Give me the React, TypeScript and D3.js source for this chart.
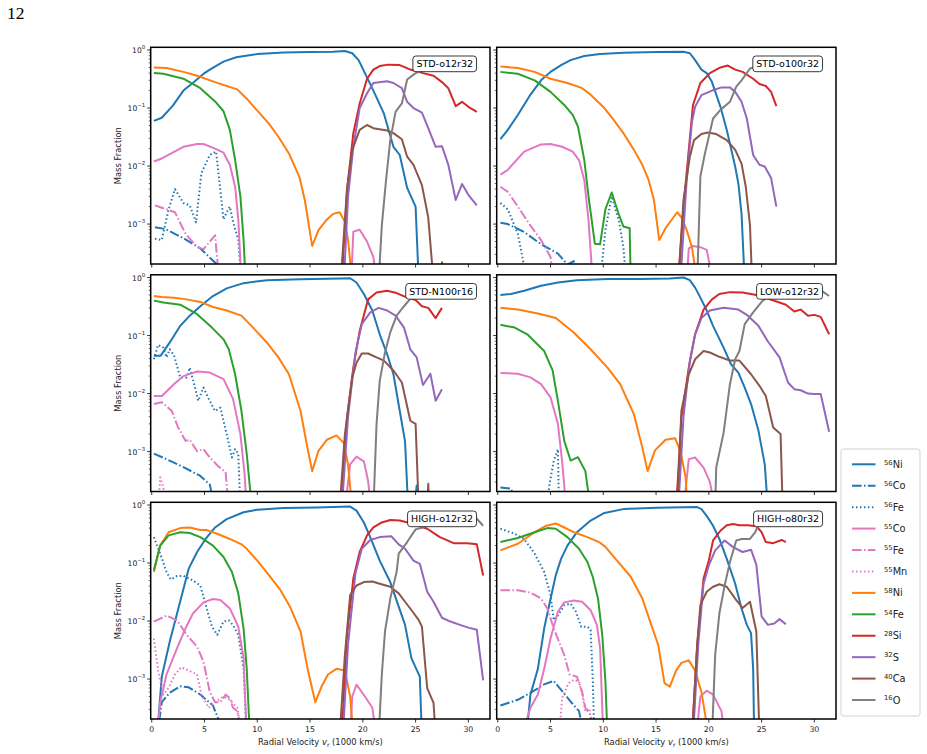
import React from 'react';
import * as d3 from 'd3';

type Pt = [number, number];

// ---------- tick labels / axes ----------
const X_TICKS = [0, 5, 10, 15, 20, 25, 30];
const Y_TICKS = [1e-3, 1e-2, 1e-1, 1];
const Y_TICK_EXP = ['\u22123', '\u22122', '\u22121', '0'];
const X_DOMAIN: [number, number] = [-0.1, 32.05];
const Y_DOMAIN: [number, number] = [2.05e-4, 1.114];

// ---------- panel A : STD-o12r32 ----------
const A_ni56: Pt[] = [[0.2,0.06],[0.95,0.068],[2,0.11],[3,0.2],[4,0.28],[5,0.4],[5.5,0.46],[6.8,0.63],[8,0.75],[10,0.85],[12.5,0.91],[15,0.92],[17.2,0.93],[18.3,0.96],[19,0.88],[19.6,0.67],[20.2,0.4],[21,0.2],[22,0.08],[22.9,0.0215],[23.5,0.0155],[24.2,0.0042],[25,0.002],[25.3,1e-4]];
const A_co56: Pt[] = [[0.3,0.00088],[1.3,0.00082],[3,0.00057],[4.6,0.00038],[6.2,0.0002],[6.5,1e-4]];
const A_fe56: Pt[] = [[0.3,0.00056],[0.95,0.00053],[1.6,0.0018],[2.2,0.004],[3,0.0023],[3.6,0.0021],[4.2,0.00107],[4.7,0.0075],[5.5,0.0155],[6.1,0.0178],[6.8,0.0012],[7.1,0.0016],[7.4,0.002],[7.7,0.0011],[8.2,0.00053],[8.5,1e-4]];
const A_co55: Pt[] = [[0.2,0.012],[0.95,0.0135],[3,0.0215],[4.3,0.024],[4.9,0.024],[6,0.02],[6.8,0.017],[7.4,0.0105],[7.9,0.0044],[8.2,0.0012],[8.5,1e-4],[18.9,1e-4],[19.1,0.00074],[19.7,0.0008],[20.4,0.0005],[21,0.00027],[21.3,1e-4]];
const A_fe55: Pt[] = [[0.3,0.0021],[2.2,0.0016],[3.2,0.00068],[4.3,0.0004],[4.9,0.00037],[6,0.00064],[6.4,1e-4]];
const A_mn55: Pt[] = [];
const A_ni58: Pt[] = [[0.2,0.5],[1.4,0.49],[3,0.42],[4.3,0.36],[6,0.28],[7.1,0.24],[8.1,0.21],[9,0.145],[10,0.09],[11.1,0.054],[12,0.032],[13,0.0165],[14,0.0064],[14.5,0.0026],[15.2,0.00042],[15.8,0.00079],[16.6,0.0012],[17.2,0.0015],[17.8,0.0016],[18.3,0.0011],[18.6,0.00053],[19,1e-4]];
const A_fe54: Pt[] = [[0.2,0.4],[1.1,0.39],[3,0.32],[4.6,0.22],[6,0.13],[6.8,0.088],[7.4,0.042],[7.9,0.0127],[8.4,0.003],[8.7,0.00053],[8.9,1e-4]];
const A_si28: Pt[] = [[18,1e-4],[18.5,0.0038],[19.1,0.037],[19.7,0.12],[20.4,0.32],[21,0.46],[21.6,0.53],[22.4,0.56],[23.5,0.55],[24.5,0.46],[25.7,0.4],[26.7,0.36],[27.5,0.28],[28.1,0.22],[28.8,0.108],[29.4,0.128],[30,0.105],[30.8,0.086]];
const A_s32: Pt[] = [[18.2,1e-4],[18.6,0.003],[19.1,0.0215],[19.7,0.1],[20.4,0.18],[21,0.27],[22.3,0.29],[22.9,0.27],[23.7,0.22],[24.2,0.128],[24.8,0.1],[25.6,0.083],[26.2,0.045],[26.9,0.0215],[27.5,0.022],[28.1,0.0105],[28.8,0.0026],[29.4,0.0049],[30,0.0032],[30.8,0.0021]];
const A_ca40: Pt[] = [[17.9,1e-4],[18.5,0.004],[19,0.019],[19.7,0.042],[20.4,0.051],[21,0.045],[22.3,0.041],[22.9,0.037],[23.7,0.029],[24.2,0.0145],[24.8,0.0105],[25.6,0.0047],[26.2,0.0013],[26.7,1e-4],[27.3,1e-4],[27.5,0.00022],[27.7,1e-4]];
const A_o16: Pt[] = [[21.5,1e-4],[21.8,0.00095],[22.2,0.0057],[22.6,0.028],[23.1,0.086],[23.7,0.12],[24.2,0.31],[25,0.4],[25.9,0.45],[27,0.47],[28,0.48],[29,0.5],[30,0.49],[30.8,0.47]];

// ---------- panel B : STD-o100r32 ----------
const B_ni56: Pt[] = [[0.25,0.029],[0.95,0.042],[1.9,0.076],[3,0.16],[4.1,0.3],[5,0.42],[6,0.55],[6.9,0.67],[8.2,0.79],[9.7,0.85],[11.9,0.9],[15.1,0.92],[17.6,0.93],[18.2,0.88],[18.7,0.67],[19.3,0.46],[19.8,0.4],[20.3,0.28],[21.1,0.105],[21.7,0.042],[22.5,0.0097],[22.8,0.005],[23.1,0.0015],[23.4,1e-4]];
const B_co56: Pt[] = [[0.25,0.00105],[0.95,0.001],[2.5,0.00073],[4.1,0.00045],[5.7,0.00031],[6.6,0.0002],[7.2,0.00023],[7.7,1e-4]];
const B_fe56: Pt[] = [[0.25,0.0023],[0.95,0.0018],[1.9,0.00068],[2.8,1e-4],[9.7,1e-4],[10.2,0.00079],[10.8,0.003],[11.5,0.0011],[11.9,0.0004],[12.2,1e-4]];
const B_co55: Pt[] = [[0.25,0.0071],[0.95,0.0086],[2.5,0.0177],[4.1,0.0236],[5,0.024],[6.1,0.0215],[7.1,0.0177],[7.7,0.0127],[8.2,0.0057],[8.6,0.00117],[9,1e-4],[17.9,1e-4],[18.1,0.00038],[18.5,0.00042],[19.2,0.0004],[19.8,0.00036],[20.4,1e-4]];
const B_fe55: Pt[] = [[0.25,0.0044],[0.95,0.0036],[1.9,0.002],[3,0.001],[4.1,0.00053],[5,0.00027],[5.3,1e-4]];
const B_mn55: Pt[] = [];
const B_ni58: Pt[] = [[0.25,0.52],[1.9,0.49],[3.5,0.42],[5,0.32],[6.6,0.27],[8,0.22],[8.8,0.17],[10.1,0.1],[11,0.062],[11.9,0.037],[12.9,0.019],[13.7,0.0105],[14.3,0.0057],[14.8,0.0026],[15.3,0.00053],[15.9,0.00085],[16.5,0.0012],[17,0.0016],[17.4,0.0013],[17.9,0.00079],[18.4,0.0004],[18.9,1e-4]];
const B_fe54: Pt[] = [[0.25,0.42],[1.9,0.39],[3.5,0.3],[5,0.19],[6.3,0.113],[7.1,0.076],[7.6,0.048],[8.2,0.0127],[8.6,0.003],[9.2,0.00046],[9.7,0.00045],[10.2,0.0018],[10.8,0.0035],[11.4,0.0016],[11.9,0.00091],[12.5,0.00085],[12.6,1e-4]];
const B_si28: Pt[] = [[17.1,1e-4],[17.6,0.002],[18.1,0.019],[18.5,0.113],[19.2,0.27],[20.1,0.4],[21.1,0.5],[21.8,0.54],[22.5,0.46],[23.2,0.42],[24.2,0.32],[24.8,0.26],[25.4,0.24],[25.9,0.19],[26.4,0.108]];
const B_s32: Pt[] = [[17.3,1e-4],[17.9,0.0057],[18.4,0.058],[18.7,0.105],[19.3,0.167],[20.3,0.2],[21.2,0.227],[22,0.227],[22.5,0.19],[23.1,0.128],[23.6,0.066],[24.2,0.0155],[24.8,0.0105],[25.3,0.0098],[25.9,0.0062],[26.4,0.002]];
const B_ca40: Pt[] = [[17.1,1e-4],[17.6,0.0026],[18.2,0.0145],[18.6,0.028],[19.3,0.0356],[19.9,0.038],[20.7,0.0356],[21.7,0.028],[22.5,0.019],[23.1,0.011],[23.5,0.0044],[23.9,0.00095],[24.1,1e-4]];
const B_o16: Pt[] = [[18.9,1e-4],[19.2,0.0066],[19.6,0.0155],[20,0.032],[20.4,0.066],[21.1,0.093],[22,0.128],[22.6,0.233],[23.1,0.3],[23.9,0.48],[24.6,0.52],[25.4,0.55],[26.2,0.5]];

// ---------- panel C : STD-N100r16 ----------
const C_ni56: Pt[] = [[0.2,0.045],[0.85,0.045],[1.9,0.086],[2.7,0.147],[3.6,0.22],[4.6,0.32],[5.8,0.48],[7.1,0.65],[8.7,0.8],[10.9,0.9],[14.1,0.93],[17.9,0.96],[18.8,0.97],[19.4,0.82],[20.1,0.52],[20.9,0.27],[21.6,0.105],[22.3,0.048],[22.9,0.0215],[23.5,0.005],[24,0.0015],[24.3,1e-4],[24.9,1e-4],[25.1,0.00026],[25.2,1e-4]];
const C_co56: Pt[] = [[0.2,0.00092],[1.4,0.00074],[3,0.00054],[4.6,0.00038],[5.5,0.00027],[6,1e-4]];
const C_fe56: Pt[] = [[0.2,0.039],[0.6,0.069],[1.1,0.062],[1.4,0.042],[1.7,0.058],[2.1,0.046],[2.7,0.019],[3.3,0.019],[3.6,0.028],[4.1,0.0127],[4.4,0.0075],[4.9,0.0127],[5.4,0.0081],[6,0.005],[6.5,0.0057],[7.1,0.002],[7.6,0.00079],[7.9,0.0011],[8.2,0.00092],[8.4,1e-4]];
const C_co55: Pt[] = [[0.2,0.0091],[0.95,0.0091],[2.1,0.0145],[3,0.02],[4.3,0.024],[5.5,0.023],[6.8,0.0177],[7.7,0.0081],[8.4,0.002],[8.8,0.0004],[9,1e-4],[18.3,1e-4],[18.8,0.0006],[19.4,0.00082],[20.1,0.00068],[20.5,0.00031],[20.8,1e-4]];
const C_fe55: Pt[] = [[0.2,0.0066],[0.95,0.0071],[1.9,0.005],[2.5,0.0026],[3.2,0.00153],[3.6,0.0016],[4.3,0.00101],[4.9,0.0011],[5.5,0.00079],[6.3,0.00056],[7,0.00044],[7.3,1e-4]];
const C_mn55: Pt[] = [[0.6,1e-4],[0.8,0.00036],[1.1,0.00024],[1.3,1e-4]];
const C_ni58: Pt[] = [[0.2,0.48],[0.95,0.46],[2.1,0.45],[3.3,0.42],[4.6,0.38],[5.8,0.31],[7.1,0.27],[8.5,0.22],[9.6,0.137],[10.9,0.076],[12,0.042],[13,0.0215],[14.1,0.005],[14.7,0.0013],[15.2,0.00046],[15.8,0.00103],[16.6,0.0016],[17.5,0.0019],[18.2,0.0014],[18.6,0.0006],[19,1e-4]];
const C_fe54: Pt[] = [[0.2,0.4],[1.1,0.37],[2.7,0.34],[4.3,0.233],[5.7,0.137],[6.8,0.086],[7.3,0.058],[7.9,0.0215],[8.5,0.005],[9,0.00091],[9.5,1e-4]];
const C_si28: Pt[] = [[17.9,1e-4],[18.5,0.0038],[19.1,0.028],[19.7,0.12],[20.5,0.42],[21.3,0.55],[22.3,0.59],[23.2,0.54],[24.2,0.45],[25,0.41],[25.6,0.32],[26.2,0.3],[26.9,0.2],[27.5,0.3]];
const C_s32: Pt[] = [[18,1e-4],[18.6,0.004],[19.3,0.051],[19.9,0.157],[20.7,0.25],[21.5,0.3],[22.3,0.27],[23.1,0.22],[23.9,0.137],[24.5,0.058],[25.1,0.042],[25.7,0.014],[26.4,0.022],[26.9,0.0075],[27.5,0.0119]];
const C_ca40: Pt[] = [[17.8,1e-4],[18.3,0.002],[19,0.019],[19.4,0.034],[19.9,0.049],[20.5,0.049],[21.3,0.042],[22,0.037],[22.9,0.025],[23.7,0.0155],[24.5,0.0034],[25,0.003],[25.3,1e-4],[26.1,1e-4],[26.2,0.00028],[26.3,1e-4]];
const C_o16: Pt[] = [[21,1e-4],[21.3,0.003],[21.6,0.0165],[22.1,0.051],[22.6,0.113],[23.2,0.22],[23.9,0.32],[24.6,0.45],[25.5,0.5],[26.4,0.55]];

// ---------- panel D : LOW-o12r32 ----------
const D_ni56: Pt[] = [[0.25,0.5],[1.25,0.52],[2.5,0.59],[4.1,0.72],[5.7,0.82],[7.5,0.9],[10.4,0.94],[13.5,0.94],[16.3,0.96],[17.6,1.0],[18.2,0.9],[18.7,0.67],[19.2,0.45],[19.8,0.27],[20.4,0.147],[21.4,0.062],[22.1,0.032],[22.8,0.023],[23.4,0.0127],[24,0.0066],[24.7,0.0023],[25.3,0.0006],[25.6,1e-4]];
const D_co56: Pt[] = [[0.25,0.00024],[1.25,0.00023],[1.9,1e-4]];
const D_fe56: Pt[] = [[4.6,1e-4],[4.9,0.00027],[5.3,0.00068],[5.7,0.0011],[5.8,1e-4]];
const D_co55: Pt[] = [[0.25,0.0227],[1.9,0.022],[3.1,0.019],[4.1,0.0145],[5,0.0086],[5.7,0.003],[6.1,0.00068],[6.5,1e-4],[17.6,1e-4],[18.1,0.00074],[18.7,0.00079],[19.5,0.00053],[20.1,0.0003],[20.6,1e-4]];
const D_fe55: Pt[] = [];
const D_mn55: Pt[] = [];
const D_ni58: Pt[] = [[0.25,0.3],[1.9,0.28],[3.8,0.24],[5.5,0.2],[7.2,0.113],[8.8,0.058],[10.4,0.028],[11.6,0.0145],[12.9,0.0044],[13.7,0.00117],[14.2,0.00046],[14.9,0.00105],[15.9,0.0016],[16.8,0.0017],[17.3,0.00103],[17.8,0.00036],[18,1e-4]];
const D_fe54: Pt[] = [[0.25,0.153],[1.6,0.137],[2.8,0.105],[4.4,0.054],[5.2,0.025],[5.7,0.0075],[6.3,0.00153],[6.9,0.0007],[7.6,0.0008],[8.3,0.00046],[8.8,1e-4]];
const D_si28: Pt[] = [[16.9,1e-4],[17.4,0.0038],[18.1,0.028],[18.7,0.105],[19.5,0.28],[20.3,0.42],[21,0.52],[22,0.56],[23.2,0.55],[24.5,0.5],[25.8,0.42],[26.7,0.37],[27.3,0.34],[28.1,0.26],[28.7,0.28],[29.4,0.22],[30,0.227],[30.6,0.21],[31.4,0.105]];
const D_s32: Pt[] = [[17.1,1e-4],[17.6,0.004],[18.2,0.037],[18.7,0.105],[19.3,0.2],[20.1,0.27],[21.4,0.3],[22.8,0.28],[23.7,0.22],[24.7,0.147],[25.6,0.079],[26.7,0.042],[27.5,0.0155],[28.1,0.0119],[28.7,0.0114],[29.4,0.01],[30,0.0098],[30.6,0.0098],[31.4,0.0022]];
const D_ca40: Pt[] = [[17,1e-4],[17.4,0.005],[18.1,0.0215],[18.7,0.039],[19.5,0.054],[20.1,0.051],[21,0.043],[22,0.037],[22.9,0.037],[24,0.0215],[24.8,0.0136],[25.4,0.0091],[26.1,0.0026],[26.8,0.002],[27,1e-4]];
const D_o16: Pt[] = [[20.6,1e-4],[20.7,0.00053],[21.4,0.0021],[22,0.0145],[22.5,0.039],[22.9,0.054],[23.4,0.157],[24.2,0.25],[25.1,0.4],[25.6,0.45],[27,0.5],[29,0.55],[30.8,0.57],[31.4,0.48]];

// ---------- panel E : HIGH-o12r32 ----------
const E_ni56: Pt[] = [[0.5,1e-4],[0.95,0.0011],[1.7,0.0044],[2.7,0.022],[3.5,0.08],[4.3,0.155],[5.1,0.26],[6,0.41],[7.1,0.57],[8.7,0.75],[10,0.83],[12.5,0.89],[15.6,0.91],[18.8,0.94],[19.4,0.8],[20.1,0.5],[20.7,0.28],[21.6,0.11],[22.6,0.047],[23.4,0.0177],[24,0.0086],[24.6,0.0023],[25.4,0.0011],[25.6,1e-4]];
const E_co56: Pt[] = [[0.5,1e-4],[0.95,0.0004],[1.7,0.00058],[2.7,0.00075],[3.5,0.00072],[4.6,0.00054],[5.8,0.00035],[7,1e-4]];
const E_fe56: Pt[] = [[0.2,0.28],[0.8,0.145],[1.4,0.07],[1.8,0.052],[2.4,0.06],[3,0.06],[3.9,0.05],[4.6,0.041],[5.2,0.0166],[5.7,0.008],[6.2,0.0058],[6.8,0.0098],[7.3,0.0103],[7.7,0.0085],[8.2,0.0058],[8.7,0.0015],[9,1e-4]];
const E_co55: Pt[] = [[0.5,1e-4],[0.8,0.0004],[1.4,0.0012],[2.4,0.0034],[3.2,0.0075],[3.9,0.0135],[4.9,0.021],[5.8,0.024],[6.5,0.023],[7.4,0.0165],[8.2,0.008],[8.7,0.0023],[9,1e-4],[18.8,1e-4],[19,0.0005],[19.4,0.0008],[20.2,0.0005],[20.9,0.00032],[21.3,1e-4]];
const E_fe55: Pt[] = [[0.2,0.0098],[1.4,0.0124],[2.4,0.0103],[3.3,0.0058],[4.3,0.0036],[4.9,0.002],[5.5,0.0006],[6,0.0004],[6.5,0.0004],[7,0.00054],[7.4,0.00047],[7.7,0.00032],[8.1,0.00028],[8.6,1e-4]];
const E_mn55: Pt[] = [[0.2,0.005],[0.6,0.0014],[1.1,0.00054],[1.6,0.00071],[2.2,0.0012],[2.8,0.0016],[3.5,0.0014],[4.3,0.0012],[4.7,0.00054],[5.4,0.00032],[6,0.0004],[6.8,0.0005],[7.4,0.00044],[8.1,0.00032],[8.6,1e-4]];
const E_ni58: Pt[] = [[0.2,0.07],[0.8,0.2],[1.6,0.34],[2.7,0.4],[3.6,0.41],[4.6,0.37],[5.2,0.37],[6.2,0.32],[7.4,0.26],[8.5,0.21],[9,0.176],[10,0.11],[11.1,0.062],[12.2,0.034],[13.1,0.0177],[14.1,0.0066],[14.8,0.0014],[15.5,0.0004],[16.1,0.00075],[16.7,0.0012],[17.5,0.0015],[18.3,0.0014],[18.8,0.0005],[19.1,1e-4]];
const E_fe54: Pt[] = [[0.2,0.075],[0.8,0.2],[1.6,0.3],[2.7,0.34],[3.6,0.33],[4.6,0.28],[5.8,0.2],[6.8,0.127],[7.6,0.07],[8.2,0.03],[8.7,0.0075],[9,0.0015],[9.3,1e-4]];
const E_si28: Pt[] = [[18,1e-4],[18.5,0.0058],[19.1,0.054],[19.7,0.155],[20.4,0.3],[21,0.41],[21.8,0.5],[22.6,0.55],[23.5,0.54],[24.8,0.47],[26.1,0.39],[27.3,0.28],[28.6,0.22],[29.9,0.22],[30.8,0.21],[31.4,0.061]];
const E_s32: Pt[] = [[18.1,1e-4],[18.6,0.004],[19.3,0.066],[19.9,0.176],[20.7,0.25],[21.6,0.28],[22.7,0.29],[23.4,0.21],[24,0.176],[24.8,0.11],[25.4,0.097],[26.1,0.032],[26.7,0.0215],[27.5,0.0114],[28.3,0.0098],[29.2,0.0086],[30,0.0077],[30.8,0.0071],[31.4,0.00095]];
const E_ca40: Pt[] = [[17.8,1e-4],[18.3,0.0026],[18.8,0.028],[19.4,0.041],[20.1,0.047],[20.9,0.048],[21.6,0.044],[22.6,0.039],[23.4,0.03],[24,0.0215],[24.6,0.0155],[25.3,0.0104],[25.6,0.008],[26.1,0.0007],[26.7,0.00039],[26.9,1e-4]];
const E_o16: Pt[] = [[21.5,1e-4],[21.8,0.0012],[22.1,0.0066],[22.6,0.0244],[23.2,0.07],[23.4,0.145],[24.2,0.23],[25,0.38],[25.7,0.41],[27,0.5],[29,0.55],[30.8,0.58],[31.4,0.44]];

// ---------- panel F : HIGH-o80r32 ----------
const F_ni56: Pt[] = [[2.7,1e-4],[3.1,0.00054],[3.8,0.0015],[4.4,0.0075],[5,0.024],[5.5,0.062],[6,0.118],[6.6,0.2],[7.5,0.34],[8.8,0.54],[10.1,0.73],[11.9,0.85],[15.1,0.9],[18.9,0.92],[19.3,0.85],[19.8,0.65],[20.4,0.44],[21,0.26],[21.7,0.118],[22.5,0.044],[23.1,0.0165],[23.6,0.0086],[24,0.0062],[24.2,0.0015],[24.3,1e-4]];
const F_co56: Pt[] = [[0.25,0.00035],[1.9,0.00044],[3.1,0.00058],[4.4,0.00081],[5.3,0.00093],[6.1,0.00062],[6.9,0.00041],[7.7,0.00028],[8.2,1e-4]];
const F_fe56: Pt[] = [[0.25,0.39],[1.6,0.32],[2.5,0.26],[3.5,0.145],[4.4,0.07],[5,0.028],[5.3,0.0104],[5.7,0.0125],[6.3,0.0187],[6.9,0.02],[7.4,0.0145],[7.9,0.008],[8.5,0.008],[8.8,0.007],[9,0.001],[9.1,0.00022],[9.2,1e-4]];
const F_co55: Pt[] = [[2.2,1e-4],[3.1,0.00032],[3.8,0.00054],[4.4,0.0015],[5,0.005],[5.7,0.0145],[6.3,0.021],[7.2,0.0227],[8,0.0215],[8.8,0.0154],[9.4,0.0085],[9.7,0.0034],[10,1e-4],[18.8,1e-4],[19.2,0.0005],[19.8,0.00063],[20.4,0.00054],[21.2,0.00028],[21.5,1e-4]];
const F_fe55: Pt[] = [[0.25,0.034],[1.9,0.034],[3.1,0.031],[4.1,0.0245],[4.7,0.0165],[5.3,0.0075],[5.8,0.0044],[6.3,0.0026],[6.8,0.0012],[7.5,0.0011],[8,0.0006],[8.3,0.00032],[8.8,0.00024],[9.1,1e-4]];
const F_mn55: Pt[] = [[5.8,1e-4],[6.1,0.00047],[6.7,0.00085],[7.2,0.00097],[7.7,0.0009],[8,0.00054],[8.3,0.00028],[8.7,0.00031],[8.9,1e-4]];
const F_ni58: Pt[] = [[0.25,0.165],[1.9,0.215],[3.5,0.34],[4.6,0.44],[5.5,0.48],[6.3,0.41],[7.2,0.34],[8.5,0.28],[9.6,0.23],[10.2,0.19],[11.3,0.11],[12.6,0.058],[13.7,0.0245],[14.5,0.0091],[15.2,0.0039],[15.8,0.00085],[16.3,0.00074],[16.9,0.0014],[17.4,0.0019],[18.1,0.0021],[18.7,0.0014],[19.3,0.0006],[20,1e-4]];
const F_fe54: Pt[] = [[0.25,0.23],[1.9,0.27],[3.5,0.34],[4.7,0.4],[5.5,0.39],[6.6,0.28],[7.7,0.176],[8.5,0.104],[9,0.058],[9.5,0.0245],[9.9,0.0058],[10.2,0.00092],[10.4,1e-4]];
const F_si28: Pt[] = [[18.4,1e-4],[18.9,0.0039],[19.5,0.054],[20,0.11],[20.4,0.245],[21.1,0.36],[21.7,0.45],[22.3,0.47],[22.9,0.45],[23.7,0.45],[24.5,0.43],[25,0.34],[25.4,0.23],[26.1,0.22],[26.9,0.25],[27.3,0.23]];
const F_s32: Pt[] = [[18.5,1e-4],[19,0.004],[19.5,0.044],[20,0.091],[20.6,0.165],[21.5,0.245],[22.3,0.188],[23.2,0.155],[24,0.17],[24.5,0.094],[25,0.012],[25.6,0.0086],[26.2,0.0091],[26.7,0.0108],[27.3,0.0088]];
const F_ca40: Pt[] = [[18.4,1e-4],[18.9,0.004],[19.2,0.019],[19.8,0.032],[20.4,0.039],[21,0.043],[21.7,0.039],[22.6,0.023],[23.2,0.0168],[23.9,0.0215],[24.5,0.0066],[24.8,1e-4]];
const F_o16: Pt[] = [[20.3,1e-4],[20.6,0.0026],[21,0.0136],[21.5,0.041],[22,0.104],[22.6,0.245],[23.1,0.26],[23.9,0.26],[24.4,0.34],[24.8,0.5],[25.3,0.55]];

// ---------- styling ----------
const LW = 2;
const DASHDOT = `${6.4 * 1.5} ${1.6 * 1.5} ${1.0 * 1.5} ${1.6 * 1.5}`;
const DOTTED = `${1.0 * 1.5} ${1.65 * 1.5}`;

type Iso = { key: string; mass: string; el: string; color: string; dash: string | null };
const ISOTOPES: Iso[] = [
  { key: 'ni56', mass: '56', el: 'Ni', color: '#1f77b4', dash: null },
  { key: 'co56', mass: '56', el: 'Co', color: '#1f77b4', dash: DASHDOT },
  { key: 'fe56', mass: '56', el: 'Fe', color: '#1f77b4', dash: DOTTED },
  { key: 'co55', mass: '55', el: 'Co', color: '#e377c2', dash: null },
  { key: 'fe55', mass: '55', el: 'Fe', color: '#e377c2', dash: DASHDOT },
  { key: 'mn55', mass: '55', el: 'Mn', color: '#e377c2', dash: DOTTED },
  { key: 'ni58', mass: '58', el: 'Ni', color: '#ff7f0e', dash: null },
  { key: 'fe54', mass: '54', el: 'Fe', color: '#2ca02c', dash: null },
  { key: 'si28', mass: '28', el: 'Si', color: '#d62728', dash: null },
  { key: 's32', mass: '32', el: 'S', color: '#9467bd', dash: null },
  { key: 'ca40', mass: '40', el: 'Ca', color: '#8c564b', dash: null },
  { key: 'o16', mass: '16', el: 'O', color: '#7f7f7f', dash: null },
];

type Panel = { name: string; col: number; row: number; data: Record<string, Pt[]> };
const PANELS: Panel[] = [
  { name: 'STD-o12r32', col: 0, row: 0, data: { ni56: A_ni56, co56: A_co56, fe56: A_fe56, co55: A_co55, fe55: A_fe55, mn55: A_mn55, ni58: A_ni58, fe54: A_fe54, si28: A_si28, s32: A_s32, ca40: A_ca40, o16: A_o16 } },
  { name: 'STD-o100r32', col: 1, row: 0, data: { ni56: B_ni56, co56: B_co56, fe56: B_fe56, co55: B_co55, fe55: B_fe55, mn55: B_mn55, ni58: B_ni58, fe54: B_fe54, si28: B_si28, s32: B_s32, ca40: B_ca40, o16: B_o16 } },
  { name: 'STD-N100r16', col: 0, row: 1, data: { ni56: C_ni56, co56: C_co56, fe56: C_fe56, co55: C_co55, fe55: C_fe55, mn55: C_mn55, ni58: C_ni58, fe54: C_fe54, si28: C_si28, s32: C_s32, ca40: C_ca40, o16: C_o16 } },
  { name: 'LOW-o12r32', col: 1, row: 1, data: { ni56: D_ni56, co56: D_co56, fe56: D_fe56, co55: D_co55, fe55: D_fe55, mn55: D_mn55, ni58: D_ni58, fe54: D_fe54, si28: D_si28, s32: D_s32, ca40: D_ca40, o16: D_o16 } },
  { name: 'HIGH-o12r32', col: 0, row: 2, data: { ni56: E_ni56, co56: E_co56, fe56: E_fe56, co55: E_co55, fe55: E_fe55, mn55: E_mn55, ni58: E_ni58, fe54: E_fe54, si28: E_si28, s32: E_s32, ca40: E_ca40, o16: E_o16 } },
  { name: 'HIGH-o80r32', col: 1, row: 2, data: { ni56: F_ni56, co56: F_co56, fe56: F_fe56, co55: F_co55, fe55: F_fe55, mn55: F_mn55, ni58: F_ni58, fe54: F_fe54, si28: F_si28, s32: F_s32, ca40: F_ca40, o16: F_o16 } },
];

// ---------- layout ----------
const W = 927, H = 754;
const PW = 339.3, PH = 216.7;
const LEFTS = [150.7, 496.7];
const TOPS = [47.3, 274.8, 502.3];
const FONT = 'DejaVu Sans, sans-serif';

function measure(text: string, size: number): number {
  if (typeof document === 'undefined') return text.length * size * 0.6;
  const c = document.createElement('canvas').getContext('2d');
  if (!c) return text.length * size * 0.6;
  c.font = `${size}px DejaVu Sans`;
  return c.measureText(text).width;
}

function minorTicks(): number[] {
  const out: number[] = [];
  for (let e = -4; e <= 0; e++) {
    for (let k = 2; k <= 9; k++) {
      const v = k * Math.pow(10, e);
      if (v >= Y_DOMAIN[0] && v <= Y_DOMAIN[1]) out.push(v);
    }
  }
  return out;
}

function PanelView({ p }: { p: Panel }) {
  const left = LEFTS[p.col];
  const top = TOPS[p.row];
  const x = d3.scaleLinear().domain(X_DOMAIN).range([left, left + PW]);
  const y = d3.scaleLog().domain(Y_DOMAIN).range([top + PH, top]);
  const line = d3.line<Pt>().x(d => x(d[0])).y(d => y(d[1]));
  const clipId = `clip-${p.col}-${p.row}`;
  const showY = p.col === 0;
  const showX = p.row === 2;
  const fs = 9.5;
  const tw = measure(p.name, fs);
  const boxRight = left + 0.95 * PW + 3.5;
  const boxW = tw + 7;
  const boxTop = top + 8.7;
  const boxH = 15.7;
  return (
    <g>
      <defs>
        <clipPath id={clipId}>
          <rect x={left} y={top} width={PW} height={PH} />
        </clipPath>
      </defs>
      <rect x={left} y={top} width={PW} height={PH} fill="white" />
      <g clipPath={`url(#${clipId})`} fill="none">
        {ISOTOPES.map(iso => {
          const d = p.data[iso.key];
          if (!d || d.length < 2) return null;
          return (
            <path key={iso.key} d={line(d) || ''} stroke={iso.color} strokeWidth={LW}
              strokeDasharray={iso.dash || undefined} strokeLinejoin="round" />
          );
        })}
      </g>
      {/* annotation box */}
      <rect x={boxRight - boxW} y={boxTop} width={boxW} height={boxH} rx={3} ry={3}
        fill="white" stroke="#222" strokeWidth={0.9} />
      <text x={boxRight - boxW / 2} y={boxTop + boxH / 2 + 3.4} textAnchor="middle"
        fontFamily={FONT} fontSize={fs} fill="#000">{p.name}</text>
      {/* frame */}
      <rect x={left} y={top} width={PW} height={PH} fill="none" stroke="#000" strokeWidth={1.5} />
      {/* y ticks */}
      {Y_TICKS.map((v, i) => (
        <g key={`y${i}`}>
          <line x1={left} x2={left - 3.5} y1={y(v)} y2={y(v)} stroke="#000" strokeWidth={0.8} />
          {showY && (
            <text x={left - 5.5} y={y(v) + 3} textAnchor="end" fontFamily={FONT} fontSize={7.6} fill="#222">
              10<tspan dy={-3.6} fontSize={5.4}>{Y_TICK_EXP[i]}</tspan>
            </text>
          )}
        </g>
      ))}
      {minorTicks().map((v, i) => (
        <line key={`m${i}`} x1={left} x2={left - 2} y1={y(v)} y2={y(v)} stroke="#000" strokeWidth={0.6} />
      ))}
      {/* x ticks */}
      {X_TICKS.map(v => (
        <g key={`x${v}`}>
          <line x1={x(v)} x2={x(v)} y1={top + PH} y2={top + PH + 3.5} stroke="#000" strokeWidth={0.8} />
          {showX && (
            <text x={x(v)} y={top + PH + 12.5} textAnchor="middle" fontFamily={FONT} fontSize={7.8} fill="#222">{v}</text>
          )}
        </g>
      ))}
      {showY && (
        <text transform={`translate(${left - 30.2},${top + PH / 2}) rotate(-90)`} textAnchor="middle"
          fontFamily={FONT} fontSize={8.4} fill="#222">Mass Fraction</text>
      )}
      {showX && (
        <text x={left + PW / 2} y={top + PH + 25.5} textAnchor="middle" fontFamily={FONT} fontSize={8.4} fill="#222">
          Radial Velocity <tspan fontStyle="italic">v</tspan><tspan fontSize={6} dy={2}>r</tspan><tspan dy={-2}> (1000 km/s)</tspan>
        </text>
      )}
    </g>
  );
}

function Legend() {
  const x0 = 841, y0 = 449, w = 79, h = 267;
  const firstY = 464.3, step = 21.43;
  return (
    <g>
      <rect x={x0} y={y0} width={w} height={h} rx={2.5} fill="white" stroke="#cccccc" strokeWidth={0.9} />
      {ISOTOPES.map((iso, i) => {
        const yy = firstY + i * step;
        return (
          <g key={iso.key}>
            <line x1={852} x2={875.5} y1={yy} y2={yy} stroke={iso.color} strokeWidth={LW}
              strokeDasharray={iso.dash || undefined} />
            <text x={884} y={yy + 3.6} fontFamily={FONT} fontSize={9.8} fill="#222">
              <tspan fontSize={6.8} dy={-3.4}>{iso.mass}</tspan><tspan dy={3.4}>{iso.el}</tspan>
            </text>
          </g>
        );
      })}
    </g>
  );
}

export default function App() {
  return (
    <svg width={W} height={H} viewBox={`0 0 ${W} ${H}`}
      style={{ position: 'absolute', left: 0, top: 0, display: 'block', background: 'white' }}>
      <rect x={0} y={0} width={W} height={H} fill="white" />
      <text x={7} y={19.4} fontFamily="Liberation Serif, serif" fontSize={17.5} fill="#000">12</text>
      {PANELS.map(p => <PanelView key={p.name} p={p} />)}
      <Legend />
    </svg>
  );
}
